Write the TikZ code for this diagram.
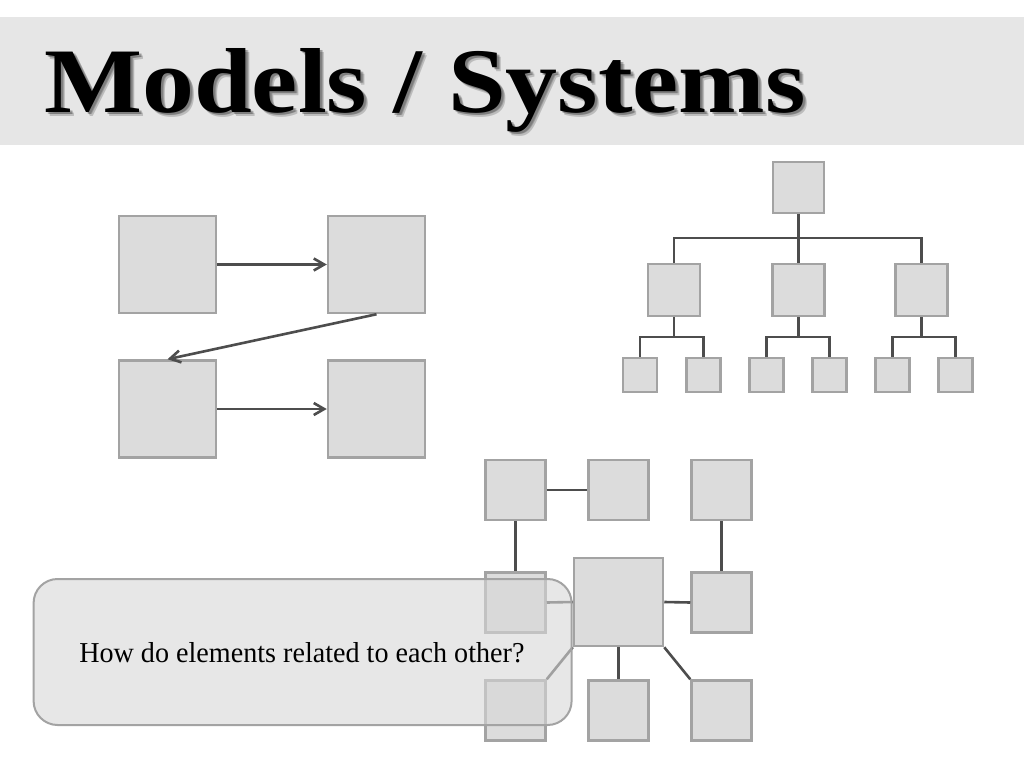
\documentclass[tikz,border=0pt]{standalone}
\usepackage{fontspec}
\setmainfont{Liberation Serif}
\usetikzlibrary{arrows.meta}
\definecolor{boxfill}{HTML}{DCDCDC}
\definecolor{boxline}{HTML}{A3A3A3}
\definecolor{conn}{HTML}{4D4D4D}
\definecolor{banner}{HTML}{E6E6E6}
\definecolor{callfill}{HTML}{D8D8D8}
\tikzset{
  bx/.style 2 args={draw=boxline, fill=boxfill, line width=0.0625cm, inner sep=0pt,
    minimum width=#1*0.025cm, minimum height=#2*0.025cm},
  link/.style={draw=conn, line width=0.065cm},
  arr/.style={link, -{Straight Barb[length=0.26cm, width=0.3cm, line width=0.065cm]}},
}
\begin{document}
\begin{tikzpicture}[x=0.025cm, y=-0.025cm]
\useasboundingbox (0,0) rectangle (1024,768);
\fill[white] (0,0) rectangle (1024,768);
% banner
\fill[banner] (0,17) rectangle (1024,145);
\foreach \d in {2,3,4}{
  \node[anchor=base west, inner sep=0pt, text=black, opacity=0.18] at (44+\d,112+\d)
    {\resizebox{19.025cm}{1.6cm}{\bfseries Models / Systems}};
}
\node[anchor=base west, inner sep=0pt] (title) at (44,112)
  {\resizebox{19.025cm}{1.6cm}{\bfseries Models / Systems}};

% left flow diagram
\node[bx={97}{97}] (A) at (167.5,264.5) {};
\node[bx={97}{97}] (B) at (376.5,264.5) {};
\node[bx={97}{97}] (C) at (167.5,409) {};
\node[bx={97}{97}] (D) at (376.5,409) {};
\draw[arr] (A.east) -- (B.west);
\draw[arr] (B.south) -- (C.north);
\draw[arr] (C.east) -- (D.west);

% tree
\node[bx={51}{51}] (R) at (798.5,187.5) {};
\node[bx={52}{52}] (M1) at (674,290) {};
\node[bx={52}{52}] (M2) at (798.5,290) {};
\node[bx={52}{52}] (M3) at (921.5,290) {};
\node[bx={34}{34}] (L1) at (640,375) {};
\node[bx={34}{34}] (L2) at (703.5,375) {};
\node[bx={34}{34}] (L3) at (766.5,375) {};
\node[bx={34}{34}] (L4) at (829.5,375) {};
\node[bx={34}{34}] (L5) at (892.5,375) {};
\node[bx={34}{34}] (L6) at (955.5,375) {};
\coordinate (bar) at (798.5,238);
\coordinate (s1) at (674,337);
\coordinate (s2) at (798.5,337);
\coordinate (s3) at (921.5,337);
\draw[link] (R.south) -- (bar);
\draw[link] (M1.north) |- (bar) -| (M3.north);
\draw[link] (bar) -- (M2.north);
\draw[link] (M1.south) -- (s1);
\draw[link] (L1.north) |- (s1) -| (L2.north);
\draw[link] (M2.south) -- (s2);
\draw[link] (L3.north) |- (s2) -| (L4.north);
\draw[link] (M3.south) -- (s3);
\draw[link] (L5.north) |- (s3) -| (L6.north);

% network
\node[bx={60}{60}] (N1) at (515.5,490) {};
\node[bx={60}{60}] (N2) at (618.5,490) {};
\node[bx={60}{60}] (N3) at (721.5,490) {};
\node[bx={60}{60}] (N4) at (515.5,602.5) {};
\node[bx={89}{88}] (NC) at (618.5,602) {};
\node[bx={60}{60}] (N5) at (721.5,602.5) {};
\node[bx={60}{60}] (N6) at (515.5,710.5) {};
\node[bx={60}{60}] (N7) at (618.5,710.5) {};
\node[bx={60}{60}] (N8) at (721.5,710.5) {};
\draw[link] (N1.east) -- (N2.west);
\draw[link] (N1.south) -- (N4.north);
\draw[link] (N3.south) -- (N5.north);
\draw[link] (NC.east) -- (N5.west);
\draw[link] (NC.west) -- (N4.east);
\draw[link] (NC.south) -- (N7.north);
\draw[link] (NC.south east) -- (N8.north west);
\draw[link] (NC.south west) -- (N6.north east);

% callout
\node[draw=boxline, line width=0.05cm, fill=callfill, fill opacity=0.6,
      rounded corners=0.6cm, inner sep=0pt,
      minimum width=538*0.025cm, minimum height=146*0.025cm] (call) at (302.6,652) {};
\node[anchor=base west, inner sep=0pt] (calltext) at (79,662)
  {\resizebox{11.125cm}{0.5cm}{How do elements related to each other?}};
\end{tikzpicture}
\end{document}
